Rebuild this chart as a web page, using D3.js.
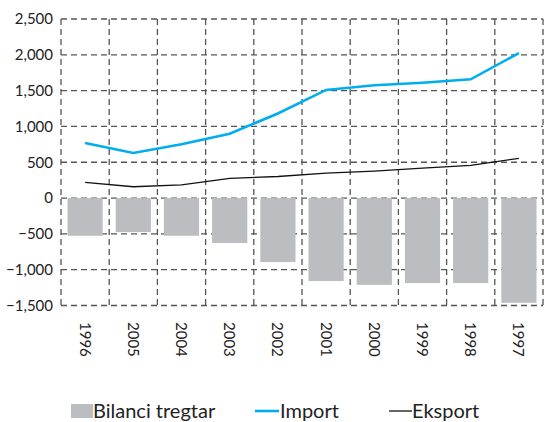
<!DOCTYPE html>
<html>
<head>
<meta charset="utf-8">
<script src="https://cdn.jsdelivr.net/npm/d3@7"></script>
<style>
  body { margin: 0; background: #fff; }
  text { font-family: Lato, "DejaVu Sans", sans-serif; fill: #222; }
</style>
</head>
<body>
<svg id="chart" width="545" height="422"></svg>
<script>
// years in the order they appear on the chart
const years = ["1996", "2005", "2004", "2003", "2002", "2001", "2000", "1999", "1998", "1997"];
const bilanci = [-526, -475, -526, -628, -894, -1159, -1211, -1187, -1187, -1462];
const importV = [768, 629, 750, 898, 1181, 1510, 1574, 1610, 1658, 2025];
const eksportV = [219, 158, 185, 274, 301, 347, 377, 419, 457, 554];
const yTicks = [-1500, -1000, -500, 0, 500, 1000, 1500, 2000, 2500];

const svg = d3.select("#chart");
const plotLeft = 61, plotRight = 543, plotTop = 19, plotBottom = 305.5;

const x = d3.scaleBand().domain(years).range([plotLeft, plotRight]).paddingInner(0.27).paddingOuter(0.135);
const xGrid = d3.scaleBand().domain(years).range([plotLeft, plotRight]);
const y = d3.scaleLinear().domain([-1500, 2500]).range([plotBottom, plotTop]);

const grid = svg.append("g").attr("stroke", "#555").attr("stroke-width", 1.3)
    .attr("stroke-dasharray", "6,4").attr("fill", "none");

// horizontal grid lines
grid.selectAll("line.h").data(yTicks).enter().append("line")
    .attr("x1", plotLeft).attr("x2", plotRight)
    .attr("y1", d => y(d)).attr("y2", d => y(d));

// vertical grid lines at band edges
const edges = years.map(d => xGrid(d)).concat([plotRight]);
grid.selectAll("line.v").data(edges).enter().append("line")
    .attr("x1", d => d).attr("x2", d => d)
    .attr("y1", plotTop).attr("y2", plotBottom);

// y axis labels
const yAxis = d3.axisLeft(y).tickValues(yTicks).tickSize(0).tickPadding(8)
    .tickFormat(d3.format(","));
svg.append("g").attr("transform", "translate(" + plotLeft + ",0)").call(yAxis)
    .call(g => g.select(".domain").remove())
    .selectAll("text").style("font-size", "15px").attr("fill", "#222");

// bars
svg.append("g").selectAll("rect").data(years).enter().append("rect")
    .attr("x", d => x(d))
    .attr("width", x.bandwidth())
    .attr("y", (d, i) => y(Math.max(0, bilanci[i])))
    .attr("height", (d, i) => Math.abs(y(bilanci[i]) - y(0)))
    .attr("fill", "#bcbdc0");

const cx = d => xGrid(d) + xGrid.bandwidth() / 2;

const lineOf = vals => d3.line().x((d, i) => cx(years[i])).y(d => y(d))(vals);

svg.append("path").attr("d", lineOf(eksportV))
    .attr("fill", "none").attr("stroke", "#111").attr("stroke-width", 1.3);
svg.append("path").attr("d", lineOf(importV))
    .attr("fill", "none").attr("stroke", "#00aeef").attr("stroke-width", 2.6);

// x labels rotated
svg.append("g").selectAll("text").data(years).enter().append("text")
    .attr("transform", d => "translate(" + (cx(d) - 5.5) + ",322) rotate(90)")
    .attr("text-anchor", "start")
    .style("font-size", "15px")
    .text(d => d);

// legend
const leg = svg.append("g").style("font-size", "20px");
leg.append("rect").attr("x", 71).attr("y", 404).attr("width", 22).attr("height", 14).attr("fill", "#bcbdc0");
leg.append("text").attr("x", 93).attr("y", 418).text("Bilanci tregtar");
leg.append("line").attr("x1", 255).attr("x2", 279).attr("y1", 411).attr("y2", 411)
    .attr("stroke", "#00aeef").attr("stroke-width", 2.6);
leg.append("text").attr("x", 280).attr("y", 418).text("Import");
leg.append("line").attr("x1", 389).attr("x2", 412).attr("y1", 411).attr("y2", 411)
    .attr("stroke", "#111").attr("stroke-width", 1.3);
leg.append("text").attr("x", 412).attr("y", 418).text("Eksport");
</script>
</body>
</html>
